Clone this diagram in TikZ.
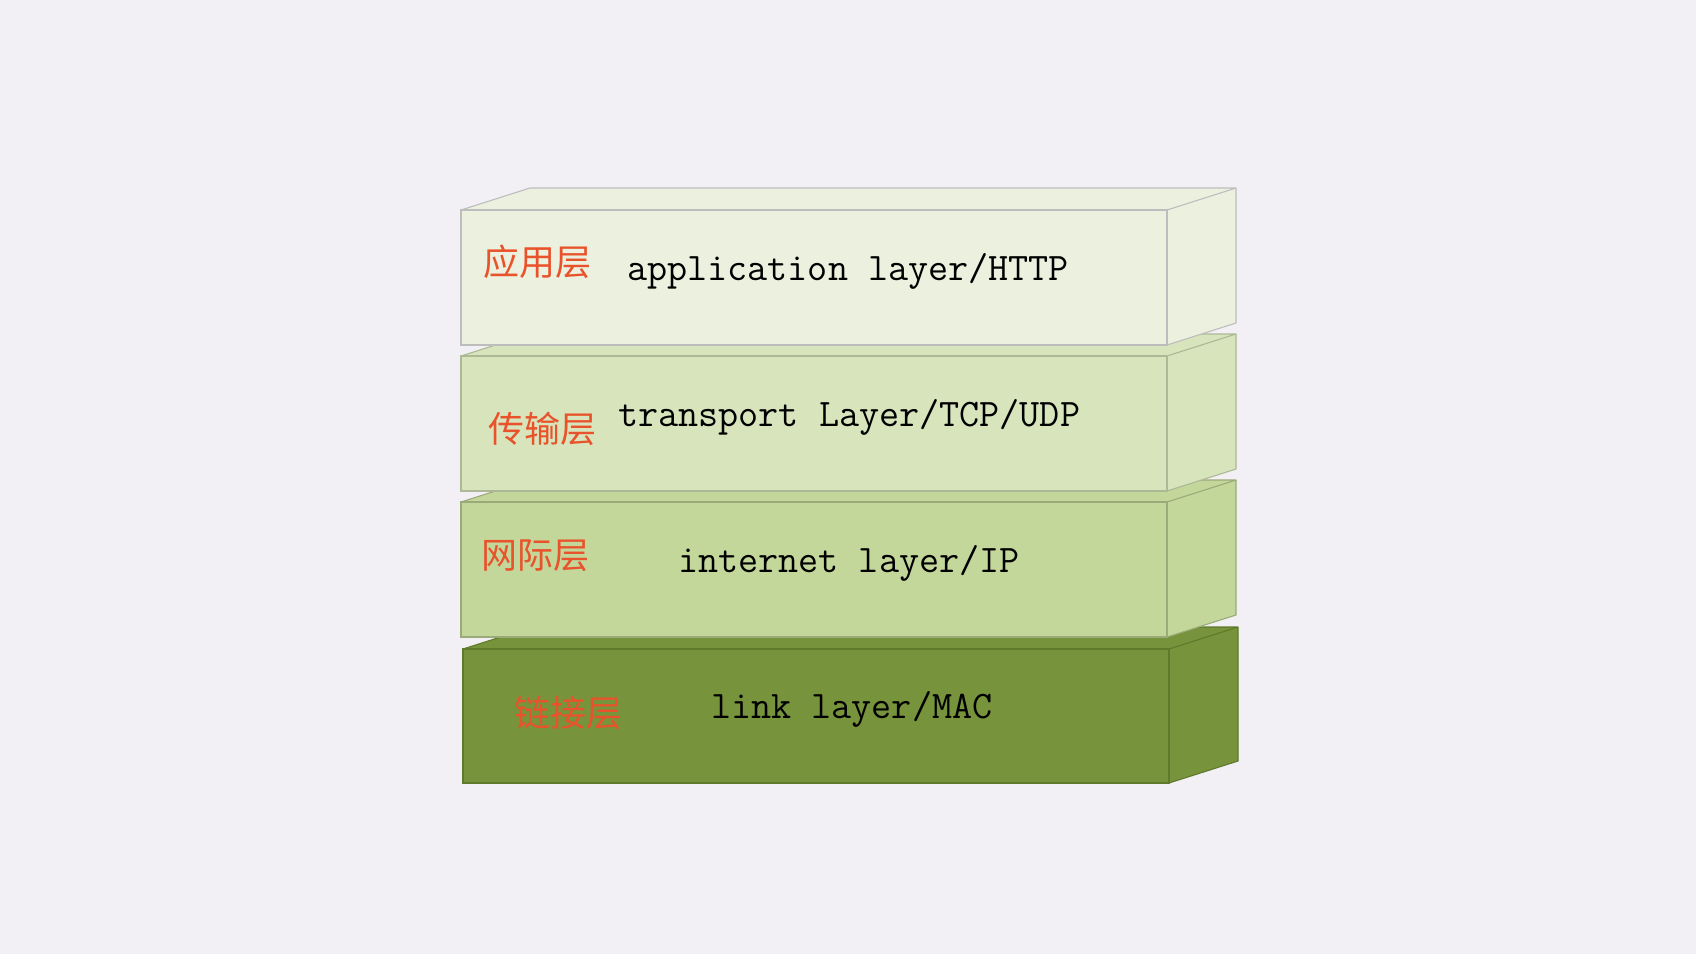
\documentclass[tikz,border=0pt]{standalone}
\usepackage{fontspec}
\newfontfamily\cjk{Noto Sans CJK SC}
\definecolor{bgc}{HTML}{F2F0F5}
\definecolor{appfill}{HTML}{EBF1DE}
\definecolor{appline}{HTML}{BDBDBD}
\definecolor{trfill}{HTML}{D8E4BC}
\definecolor{trline}{HTML}{ADB896}
\definecolor{infill}{HTML}{C4D79B}
\definecolor{inline}{HTML}{9AAA78}
\definecolor{lkfill}{HTML}{77933C}
\definecolor{lkline}{HTML}{5E7A2A}
\definecolor{cntext}{HTML}{E9532C}
\newcommand\layerbox[6]{%
  % #1 x, #2 y (front top-left), #3 w, #4 h, #5 fill, #6 line
  \fill[#5] (#1,#2) -- ++(69,-22) -- ++(#3,0) -- ++(0,#4) -- ++(-69,22) -- ++(0,-#4) -- cycle;
  \fill[#5] (#1,#2) rectangle ++(#3,#4);
  \draw[#6, line width=1.1pt, line join=round] (#1,#2) -- ++(69,-22) -- ++(#3,0) -- ++(-69,22);
  \draw[#6, line width=1.1pt, line join=round] ($(#1,#2)+(#3,0)$) ++(69,-22) -- ++(0,#4) -- ++(-69,22);
  \draw[#6, line width=1.1pt] (#1,#2) rectangle ++(#3,#4);
}
\usetikzlibrary{calc}
\tikzset{
  cnlabel/.style={anchor=west, inner sep=0pt, text=cntext, font=\cjk\fontsize{36}{40}\selectfont},
  enlabel/.style={anchor=base west, inner sep=0pt, text=black, font=\ttfamily\fontsize{39}{43}\selectfont},
}
\begin{document}
\begin{tikzpicture}[x=1pt,y=-1pt]
\fill[bgc] (0,0) rectangle (1696,954);
\useasboundingbox (0,0) rectangle (1696,954);
\layerbox{463}{649}{706}{134}{lkfill}{lkline}
\layerbox{461}{502}{706}{135}{infill}{inline}
\layerbox{461}{356}{706}{135}{trfill}{trline}
\layerbox{461}{210}{706}{135}{appfill}{appline}
\node[cnlabel] (c1) at (483,262) {应用层};
\node[enlabel] (e1) at (627,280) {application layer/HTTP};
\node[cnlabel] (c2) at (488,429) {传输层};
\node[enlabel] (e2) at (618,426) {transport Layer/TCP/UDP};
\node[cnlabel] (c3) at (481,556) {网际层};
\node[enlabel] (e3) at (678,572) {internet layer/IP};
\node[cnlabel] (c4) at (514,713) {链接层};
\node[enlabel] (e4) at (711,718) {link layer/MAC};
\end{tikzpicture}
\end{document}
